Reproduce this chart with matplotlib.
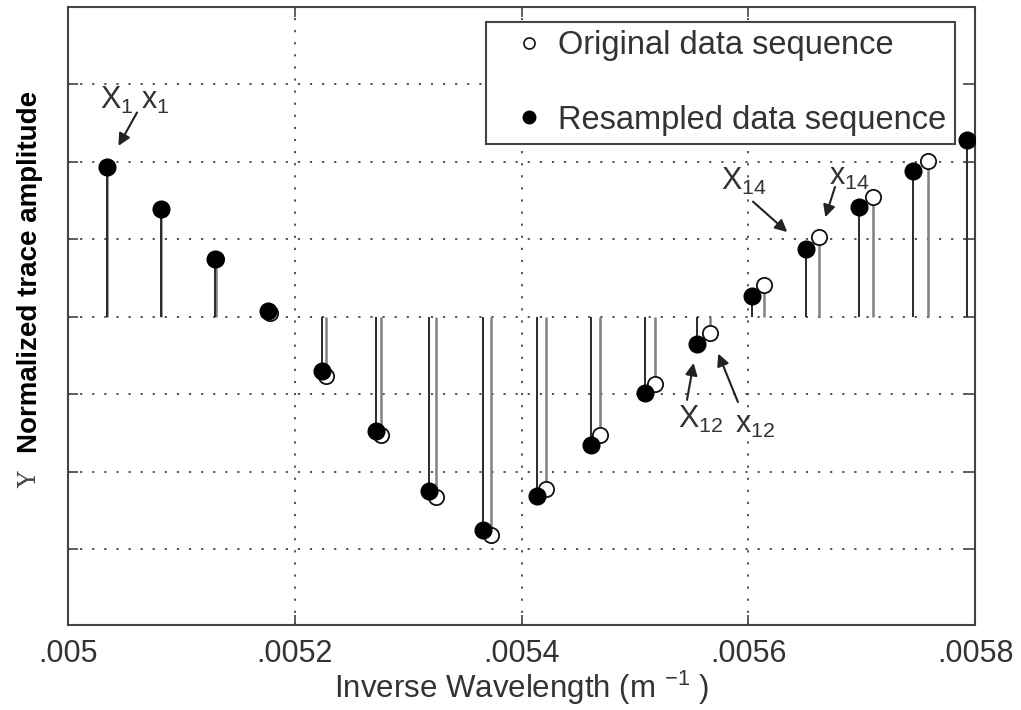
import numpy as np
import matplotlib
matplotlib.use("Agg")
import matplotlib.pyplot as plt
from matplotlib.lines import Line2D


# -----------------------------
# Data
# -----------------------------
# resampled sequence (filled markers)
res_x = [0.0050344, 0.0050820, 0.0051297, 0.0051764, 0.0052240, 0.0052717,
         0.0053184, 0.0053660, 0.0054137, 0.0054613, 0.0055089, 0.0055548,
         0.0056033, 0.0056509, 0.0056977, 0.0057453, 0.0057929]
res_y = [1.94, 1.39, 0.75, 0.08, -0.70, -1.47, -2.25, -2.75, -2.31, -1.66,
         -0.99, -0.35, 0.27, 0.88, 1.42, 1.88, 2.28]

# original sequence (open markers)
orig_x = [0.0050344, 0.0050820, 0.0051305, 0.0051782, 0.0052276, 0.0052761,
          0.0053246, 0.0053731, 0.0054216, 0.0054692, 0.0055177, 0.0055662,
          0.0056139, 0.0056624, 0.0057100, 0.0057585]
orig_y = [1.94, 1.39, 0.75, 0.05, -0.76, -1.53, -2.33, -2.82, -2.22, -1.53,
          -0.87, -0.21, 0.41, 1.03, 1.55, 2.01]

x_ticks = [0.005, 0.0052, 0.0054, 0.0056, 0.0058]
x_tick_labels = [".005", ".0052", ".0054", ".0056", ".0058"]
y_ticks = [-3, -2, -1, 0, 1, 2, 3]

TXT = "#333333"
plt.rcParams["font.family"] = ["Liberation Sans", "DejaVu Sans"]
plt.rcParams["mathtext.default"] = "regular"

fig = plt.figure(figsize=(10.21, 7.10), dpi=100)
ax = fig.add_axes([68 / 1021, 85 / 710, 907 / 1021, 618 / 710])

# -----------------------------
# Stems
# -----------------------------
o_ml, o_sl, o_bl = ax.stem(orig_x, orig_y, basefmt=" ")
o_sl.set_color("#808080")
o_sl.set_linewidth(1.8)
o_ml.set_marker("o")
o_ml.set_markersize(11)
o_ml.set_markerfacecolor("white")
o_ml.set_markeredgecolor("#111111")
o_ml.set_markeredgewidth(1.3)
o_ml.set_zorder(4)
o_bl.set_visible(False)

r_ml, r_sl, r_bl = ax.stem(res_x, res_y, basefmt=" ")
r_sl.set_color("#2a2a2a")
r_sl.set_linewidth(1.4)
r_ml.set_marker("o")
r_ml.set_markersize(12)
r_ml.set_markerfacecolor("black")
r_ml.set_markeredgecolor("black")
r_ml.set_zorder(5)
r_bl.set_visible(False)

ax.set_xlim(0.005, 0.0058)
ax.set_ylim(-3.98, 4.0)
ax.set_xticks(x_ticks)
ax.set_xticklabels(x_tick_labels, fontsize=22, color=TXT)
ax.set_yticks(y_ticks)
ax.set_yticklabels([])
ax.tick_params(direction="in", length=7, width=1.2, color="#444444",
               top=True, right=True, pad=10)
ax.grid(True, color="#444444", linestyle=(0, (1.2, 5.5)), linewidth=1.3)
for s in ax.spines.values():
    s.set_color("#444444")
    s.set_linewidth(1.5)

ax.set_xlabel("Inverse Wavelength (m $^{-1}$ )", fontsize=22.5, color=TXT,
              labelpad=0)
fig.text(30 / 1021, 1 - 272 / 710, "Normalized trace amplitude",
         rotation=90, fontsize=20, fontweight="bold", ha="center", va="center")
fig.text(30 / 1021, 1 - 480 / 710, "Y", rotation=90, fontsize=18,
         family="DejaVu Serif", ha="center", va="center", color="#444444")

# -----------------------------
# Legend
# -----------------------------
h_orig = Line2D([], [], linestyle="none", marker="o", markersize=8,
                markerfacecolor="white", markeredgecolor="#111111",
                markeredgewidth=1.2)
h_res = Line2D([], [], linestyle="none", marker="o", markersize=9,
               markerfacecolor="black", markeredgecolor="black")
leg = ax.legend([h_orig, h_res],
                ["Original data sequence", "Resampled data sequence"],
                loc="upper left",
                bbox_to_anchor=((486 - 68) / 907, (625 - 22) / 618),
                borderaxespad=0, fontsize=23.5, frameon=True, fancybox=False,
                edgecolor="#444444", framealpha=1, labelspacing=1.32,
                handlelength=2.1, handletextpad=-0.15, borderpad=0.26)
leg.get_frame().set_linewidth(1.5)
for t in leg.get_texts():
    t.set_color(TXT)
leg.set_zorder(3)

# -----------------------------
# Annotations
# -----------------------------
arrow = dict(arrowstyle="-|>", color="#222222", lw=1.5, mutation_scale=18,
             shrinkA=0)


def label_point(px, py, text, text_off, arrow_off, shrink):
    ax.annotate(text, xy=(px, py), xytext=text_off, textcoords="offset pixels",
                fontsize=22, color=TXT, ha="center", va="center")
    ax.annotate("", xy=(px, py), xytext=arrow_off, textcoords="offset pixels",
                arrowprops=dict(arrow, shrinkB=shrink))


ax.annotate("X$_1$", xy=(res_x[0], res_y[0]), xytext=(10, 66),
            textcoords="offset pixels", fontsize=22, color=TXT,
            ha="center", va="center")
label_point(orig_x[0], orig_y[0], "x$_1$", (48, 66), (30, 54), 17)
label_point(res_x[13], res_y[13], "X$_{14}$", (-62, 67), (-53, 47), 18)
label_point(orig_x[13], orig_y[13], "x$_{14}$", (30, 60), (16, 50), 15)
label_point(res_x[11], res_y[11], "X$_{12}$", (4, -76), (-10, -56), 14)
label_point(orig_x[11], orig_y[11], "x$_{12}$", (45, -92), (28, -69), 16)

fig.savefig("out.png", dpi=100)
